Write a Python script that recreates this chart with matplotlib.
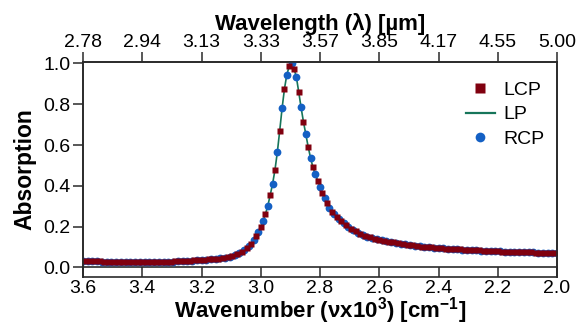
import matplotlib
matplotlib.use("Agg")
import matplotlib.pyplot as plt
from matplotlib.lines import Line2D

plt.rcParams['font.family'] = ['Liberation Sans', 'DejaVu Sans']
plt.rcParams['mathtext.default'] = 'regular'

# wavenumber (x10^3 cm-1)
wavenumber = [
    3.600, 3.592, 3.584, 3.576, 3.568, 3.560, 3.552, 3.544,
    3.536, 3.528, 3.520, 3.512, 3.504, 3.496, 3.488, 3.480,
    3.472, 3.464, 3.456, 3.448, 3.440, 3.432, 3.424, 3.416,
    3.408, 3.400, 3.392, 3.384, 3.376, 3.368, 3.360, 3.352,
    3.344, 3.336, 3.328, 3.320, 3.312, 3.304, 3.296, 3.288,
    3.280, 3.272, 3.264, 3.256, 3.248, 3.240, 3.232, 3.224,
    3.216, 3.208, 3.200, 3.192, 3.184, 3.176, 3.168, 3.160,
    3.152, 3.144, 3.136, 3.128, 3.120, 3.112, 3.104, 3.096,
    3.088, 3.080, 3.072, 3.064, 3.056, 3.048, 3.040, 3.032,
    3.024, 3.016, 3.008, 3.000, 2.992, 2.984, 2.976, 2.968,
    2.960, 2.952, 2.944, 2.936, 2.928, 2.920, 2.912, 2.904,
    2.896, 2.888, 2.880, 2.872, 2.864, 2.856, 2.848, 2.840,
    2.832, 2.824, 2.816, 2.808, 2.800, 2.792, 2.784, 2.776,
    2.768, 2.760, 2.752, 2.744, 2.736, 2.728, 2.720, 2.712,
    2.704, 2.696, 2.688, 2.680, 2.672, 2.664, 2.656, 2.648,
    2.640, 2.632, 2.624, 2.616, 2.608, 2.600, 2.592, 2.584,
    2.576, 2.568, 2.560, 2.552, 2.544, 2.536, 2.528, 2.520,
    2.512, 2.504, 2.496, 2.488, 2.480, 2.472, 2.464, 2.456,
    2.448, 2.440, 2.432, 2.424, 2.416, 2.408, 2.400, 2.392,
    2.384, 2.376, 2.368, 2.360, 2.352, 2.344, 2.336, 2.328,
    2.320, 2.312, 2.304, 2.296, 2.288, 2.280, 2.272, 2.264,
    2.256, 2.248, 2.240, 2.232, 2.224, 2.216, 2.208, 2.200,
    2.192, 2.184, 2.176, 2.168, 2.160, 2.152, 2.144, 2.136,
    2.128, 2.120, 2.112, 2.104, 2.096, 2.088, 2.080, 2.072,
    2.064, 2.056, 2.048, 2.040, 2.032, 2.024, 2.016, 2.008,
    2.000,
]

# absorption at each wavenumber (LP curve, LCP/RCP sit on it)
absorption = [
    0.031, 0.031, 0.030, 0.030, 0.030, 0.029, 0.029, 0.029,
    0.028, 0.028, 0.028, 0.028, 0.027, 0.027, 0.027, 0.027,
    0.027, 0.026, 0.026, 0.026, 0.026, 0.026, 0.026, 0.026,
    0.026, 0.026, 0.026, 0.026, 0.026, 0.026, 0.026, 0.027,
    0.027, 0.027, 0.027, 0.027, 0.028, 0.028, 0.028, 0.029,
    0.029, 0.030, 0.030, 0.031, 0.031, 0.032, 0.033, 0.034,
    0.035, 0.035, 0.036, 0.037, 0.038, 0.039, 0.040, 0.041,
    0.042, 0.043, 0.045, 0.046, 0.047, 0.049, 0.051, 0.055,
    0.059, 0.064, 0.070, 0.077, 0.085, 0.093, 0.103, 0.115,
    0.133, 0.153, 0.174, 0.200, 0.228, 0.262, 0.303, 0.355,
    0.410, 0.478, 0.565, 0.670, 0.780, 0.875, 0.945, 0.985,
    1.000, 0.975, 0.935, 0.862, 0.785, 0.715, 0.652, 0.592,
    0.537, 0.492, 0.457, 0.426, 0.396, 0.367, 0.339, 0.314,
    0.292, 0.274, 0.260, 0.248, 0.237, 0.226, 0.216, 0.207,
    0.198, 0.190, 0.183, 0.177, 0.171, 0.165, 0.160, 0.155,
    0.151, 0.147, 0.144, 0.141, 0.138, 0.135, 0.133, 0.131,
    0.129, 0.127, 0.125, 0.123, 0.121, 0.119, 0.117, 0.115,
    0.113, 0.111, 0.110, 0.108, 0.107, 0.105, 0.104, 0.102,
    0.101, 0.100, 0.099, 0.098, 0.097, 0.096, 0.095, 0.094,
    0.093, 0.092, 0.091, 0.091, 0.090, 0.089, 0.088, 0.088,
    0.087, 0.086, 0.086, 0.085, 0.085, 0.084, 0.083, 0.083,
    0.082, 0.082, 0.081, 0.081, 0.080, 0.080, 0.079, 0.079,
    0.079, 0.078, 0.078, 0.077, 0.077, 0.077, 0.076, 0.076,
    0.076, 0.075, 0.075, 0.075, 0.074, 0.074, 0.074, 0.073,
    0.073, 0.073, 0.073, 0.072, 0.072, 0.072, 0.071, 0.071,
    0.071,
]

wavenumber_ticks = [3.6, 3.4, 3.2, 3.0, 2.8, 2.6, 2.4, 2.2, 2.0]
wavenumber_labels = ["3.6", "3.4", "3.2", "3.0", "2.8", "2.6", "2.4", "2.2", "2.0"]
wavelength_labels = ["2.78", "2.94", "3.13", "3.33", "3.57", "3.85", "4.17", "4.55", "5.00"]
absorption_ticks = [0.0, 0.2, 0.4, 0.6, 0.8, 1.0]
absorption_labels = ["0.0", "0.2", "0.4", "0.6", "0.8", "1.0"]

# RCP and LCP points alternate along the same band
rcp_wn, rcp_abs = wavenumber[0::2], absorption[0::2]
lcp_wn, lcp_abs = wavenumber[1::2], absorption[1::2]

RED = '#80000f'
BLUE = '#1460c4'
GREEN = '#16755a'
AXC = '#2a2a2a'

fig = plt.figure(figsize=(5.78, 3.26), dpi=100)
ax = fig.add_axes([83 / 578, 1 - 277 / 326, 474 / 578, 215 / 326])

ax.plot(wavenumber, absorption, color=GREEN, lw=1.2, zorder=2)
ax.plot(rcp_wn, rcp_abs, 'o', ms=5.6, color=BLUE, mec='none', zorder=3)
ax.plot(lcp_wn, lcp_abs, 's', ms=4.7, color=RED, mec='none', zorder=4)

ax.set_xlim(3.6, 2.0)
ax.set_ylim(-0.047, 1.007)
ax.spines['bottom'].set_position(('data', 0))
for s in ax.spines.values():
    s.set_color(AXC)
    s.set_linewidth(1.2)

ax.set_xticks(wavenumber_ticks)
ax.set_xticklabels(wavenumber_labels)
ax.set_yticks(absorption_ticks)
ax.set_yticklabels(absorption_labels)
ax.tick_params(axis='both', direction='out', length=7, width=1.1, color=AXC,
               labelsize=14, pad=2)
ax.tick_params(axis='y', right=False)

ax.set_xlabel('Wavenumber (νx10$^3$) [cm$^{-1}$]', fontsize=16, fontweight='bold', labelpad=-1)
ax.set_ylabel('Absorption', fontsize=16.5, fontweight='bold', labelpad=5)

# top axis: same tick positions, labelled in wavelength
top = ax.twiny()
top.set_xlim(ax.get_xlim())
top.set_xticks(wavenumber_ticks)
top.set_xticklabels(wavelength_labels)
top.tick_params(axis='x', direction='out', length=7, width=1.1, color=AXC,
                labelsize=14, pad=1)
for s in top.spines.values():
    s.set_color(AXC)
    s.set_linewidth(1.2)
top.set_xlabel('Wavelength (λ) [µm]', fontsize=16, fontweight='bold', labelpad=3)

handles = [
    Line2D([], [], ls='none', marker='s', ms=7, color=RED, mec='none'),
    Line2D([], [], color=GREEN, lw=1.6),
    Line2D([], [], ls='none', marker='o', ms=7, color=BLUE, mec='none'),
]
ax.legend(handles, ['LCP', 'LP', 'RCP'], loc='upper right', bbox_to_anchor=(0.995, 0.955),
          frameon=False, fontsize=14, handlelength=1.5, handletextpad=0.45,
          labelspacing=0.35, borderpad=0)

fig.savefig('out.png', dpi=100)
